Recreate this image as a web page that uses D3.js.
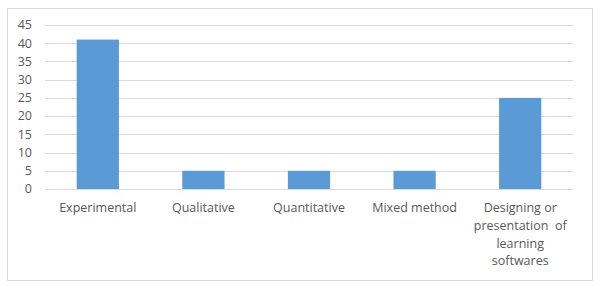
<!DOCTYPE html>
<meta charset="utf-8">
<style>
body { margin: 0; background: #fff; font-family: "Open Sans", "Liberation Sans", Arial, sans-serif; }
.axis text { font-size: 12.5px; fill: #595959; }
.grid line { stroke: #d9d9d9; stroke-width: 1px; }
</style>
<body></body>
<script src="https://d3js.org/d3.v7.min.js"></script>
<script>
var categories = ["Experimental", "Qualitative", "Quantitative", "Mixed method", "Designing or|presentation  of|learning|softwares"];
var values = [41, 5, 5, 5, 25];
var yTicks = [0, 5, 10, 15, 20, 25, 30, 35, 40, 45];

var W = 600, H = 286;
var plot = { left: 45, right: 573, top: 25, bottom: 189 };

var svg = d3.select("body").append("svg")
    .attr("width", W)
    .attr("height", H);

// outer frame
svg.append("rect")
    .attr("x", 7.5).attr("y", 8.5)
    .attr("width", 585).attr("height", 272)
    .attr("fill", "#fff")
    .attr("stroke", "#d9d9d9");

var x = d3.scaleBand()
    .domain(categories)
    .range([plot.left, plot.right])
    .paddingInner(0.6)
    .paddingOuter(0.3);

var y = d3.scaleLinear()
    .domain([0, 45])
    .range([plot.bottom, plot.top]);

// gridlines
svg.append("g")
    .attr("class", "grid")
    .selectAll("line")
    .data(yTicks)
  .enter().append("line")
    .attr("x1", plot.left)
    .attr("x2", plot.right)
    .attr("y1", function(d) { return Math.round(y(d)) + 0.5; })
    .attr("y2", function(d) { return Math.round(y(d)) + 0.5; });

// y labels
svg.append("g")
    .attr("class", "axis")
    .selectAll("text")
    .data(yTicks)
  .enter().append("text")
    .attr("x", 32)
    .attr("y", function(d) { return y(d); })
    .attr("dy", "0.35em")
    .attr("text-anchor", "end")
    .text(function(d) { return d; });

// bars
svg.append("g")
    .selectAll("rect")
    .data(values)
  .enter().append("rect")
    .attr("x", function(d, i) { return x(categories[i]); })
    .attr("width", x.bandwidth())
    .attr("y", function(d) { return y(d); })
    .attr("height", function(d) { return y(0) - y(d); })
    .attr("fill", "#5b9bd5");

// x labels
var xl = svg.append("g")
    .attr("class", "axis")
    .selectAll("text")
    .data(categories)
  .enter().append("text")
    .attr("x", function(d) { return x(d) + x.bandwidth() / 2; })
    .attr("y", 208)
    .attr("text-anchor", "middle")
    .style("white-space", "pre");

xl.each(function(d) {
  var lines = d.split("|");
  var t = d3.select(this);
  lines.forEach(function(s, j) {
    t.append("tspan")
      .attr("x", x(d) + x.bandwidth() / 2)
      .attr("dy", j == 0 ? "0.35em" : "17.7px")
      .text(s);
  });
});
</script>
